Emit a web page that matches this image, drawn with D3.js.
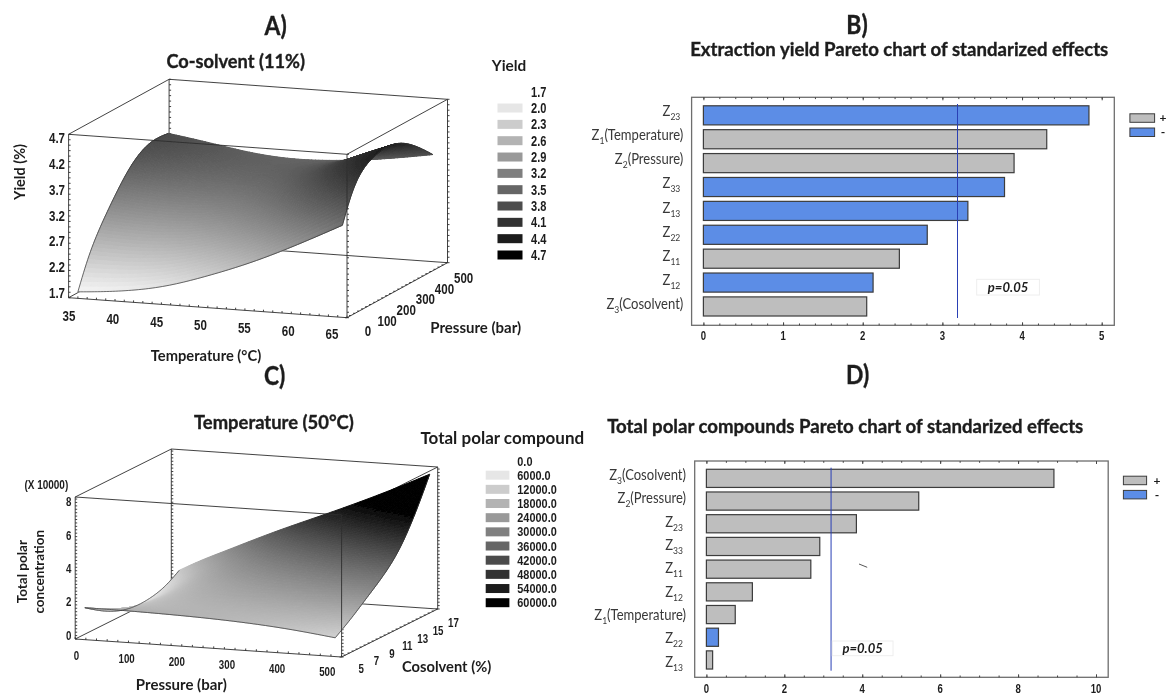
<!DOCTYPE html>
<html>
<head>
<meta charset="utf-8">
<script src="https://cdnjs.cloudflare.com/ajax/libs/d3/7.8.5/d3.min.js"></script>
<style>
  html, body { margin: 0; padding: 0; background: #fff; }
  svg { display: block; }
  text { font-family: Lato, "Noto Sans", sans-serif; fill: #1c1c1c; }
  .narrow { font-family: "Liberation Sans", sans-serif; font-weight: bold; }
  .heavy { stroke: #1c1c1c; stroke-width: 0.35; }
</style>
</head>
<body>
<svg id="chart" width="1166" height="695">
  <defs>
    <filter id="soft" filterUnits="userSpaceOnUse" x="0" y="0" width="1166" height="695">
      <feGaussianBlur stdDeviation="0.4"></feGaussianBlur>
    </filter>
  </defs>
</svg>
<script>
// A) yield surface, rows go with yieldPressures, columns with yieldTemps
var yieldTemps = [36, 40, 45, 50, 55, 60, 64.5];
var yieldPressures = [0, 50, 100, 150, 200, 250, 300, 350, 400, 450];
var yieldGrid = [
  [1.82, 1.87, 2.00, 2.28, 2.60, 3.00, 3.39],
  [2.35, 2.33, 2.38, 2.62, 2.95, 3.45, 3.95],
  [2.72, 2.68, 2.70, 2.90, 3.22, 3.75, 4.22],
  [3.02, 2.97, 2.97, 3.12, 3.44, 3.95, 4.33],
  [3.30, 3.22, 3.20, 3.30, 3.58, 4.05, 4.38],
  [3.55, 3.44, 3.38, 3.42, 3.67, 4.08, 4.38],
  [3.73, 3.60, 3.50, 3.50, 3.70, 4.03, 4.30],
  [3.83, 3.70, 3.58, 3.53, 3.68, 3.92, 4.16],
  [3.85, 3.74, 3.60, 3.52, 3.62, 3.80, 3.98],
  [3.82, 3.72, 3.56, 3.50, 3.55, 3.65, 3.78]
];
var yieldLegend = [1.7, 2.0, 2.3, 2.6, 2.9, 3.2, 3.5, 3.8, 4.1, 4.4, 4.7];
var tempTicks = [35, 40, 45, 50, 55, 60, 65];
var pressureTicks = [0, 100, 200, 300, 400, 500];
var yieldTicks = [1.7, 2.2, 2.7, 3.2, 3.7, 4.2, 4.7];

// C) total polar surface (x 10000), rows go with polarCosolvents, columns with polarPressures
var polarPressures = [18, 60, 100, 200, 300, 400, 488];
var polarCosolvents = [5, 7, 9, 11, 13, 15, 16.8];
var polarGrid = [
  [1.87, 1.87, 1.86, 1.80, 1.68, 1.45, 1.10],
  [1.20, 1.45, 1.60, 1.75, 1.80, 1.80, 1.75],
  [0.70, 1.15, 1.55, 1.95, 2.15, 2.35, 2.55],
  [0.45, 1.00, 1.60, 2.20, 2.60, 3.00, 3.30],
  [0.48, 1.10, 1.75, 2.65, 3.20, 3.80, 4.30],
  [0.72, 1.45, 2.05, 3.20, 4.00, 5.00, 6.00],
  [1.30, 2.00, 2.55, 4.00, 5.25, 6.60, 7.92]
];
var polarLegend = [0, 6000, 12000, 18000, 24000, 30000, 36000, 42000, 48000, 54000, 60000];
var cosolventTicks = [5, 7, 9, 11, 13, 15, 17];
var polarTicks = [0, 2, 4, 6, 8];

// B) Pareto of yield
var yieldEffects = ["Z23", "Z1(Temperature)", "Z2(Pressure)", "Z33", "Z13", "Z22", "Z11", "Z12", "Z3(Cosolvent)"];
var yieldEffectValues = [4.84, 4.31, 3.90, 3.78, 3.32, 2.81, 2.46, 2.13, 2.05];
var yieldEffectSigns = ["-", "+", "+", "-", "-", "-", "+", "-", "+"];
var yieldThreshold = 3.19;

// D) Pareto of polar compounds
var polarEffects = ["Z3(Cosolvent)", "Z2(Pressure)", "Z23", "Z33", "Z11", "Z12", "Z1(Temperature)", "Z22", "Z13"];
var polarEffectValues = [8.92, 5.45, 3.85, 2.91, 2.68, 1.18, 0.74, 0.31, 0.16];
var polarEffectSigns = ["+", "+", "+", "+", "+", "+", "+", "-", "+"];
var polarThreshold = 3.2;

var svg = d3.select("#chart");
var root = svg.append("g").attr("filter", "url(#soft)");

// every label goes through here; sq squeezes the glyphs sideways (the source font is narrow)
function label(parent, x, y, str, size, opts) {
  opts = opts || {};
  return parent.append("text")
    .attr("transform", "translate(" + x + "," + y + ") scale(" + (opts.sq || 1) + ",1)")
    .attr("dy", "0.35em")
    .attr("text-anchor", opts.anchor || "middle")
    .attr("font-size", size)
    .attr("font-weight", opts.weight || "bold")
    .attr("font-style", opts.style || "normal")
    .attr("class", opts.cls || null)
    .text(str);
}

function surfacePanel(cfg) {
  var g = root.append("g");
  var sx = d3.scaleLinear().domain(cfg.xDomain).range([0, 1]);
  var sy = d3.scaleLinear().domain(cfg.yDomain).range([0, 1]);
  var sz = d3.scaleLinear().domain(cfg.zDomain).range([0, 1]);
  var shade = d3.scaleLinear().domain(cfg.shadeDomain).range(["#ffffff", "#000000"]).clamp(true);

  function project(a, b, v) {
    return [
      cfg.origin[0] + sx(a) * cfg.xVec[0] + sy(b) * cfg.yVec[0],
      cfg.origin[1] + sx(a) * cfg.xVec[1] + sy(b) * cfg.yVec[1] - sz(v) * cfg.height
    ];
  }

  var x0 = cfg.xDomain[0], x1 = cfg.xDomain[1], y0 = cfg.yDomain[0], y1 = cfg.yDomain[1], z0 = cfg.zDomain[0], z1 = cfg.zDomain[1];
  var line = d3.line();

  function edge(a, b) {
    return g.append("path").attr("d", line([a, b])).attr("fill", "none")
      .attr("stroke", "#2e2e2e").attr("stroke-width", 0.9);
  }

  // box parts behind the surface
  edge(project(x0, y0, z0), project(x1, y0, z0));
  edge(project(x0, y0, z0), project(x0, y1, z0));
  edge(project(x1, y0, z0), project(x1, y1, z0));
  edge(project(x0, y1, z0), project(x1, y1, z0));
  edge(project(x0, y1, z0), project(x0, y1, z1));
  edge(project(x1, y1, z0), project(x1, y1, z1));
  edge(project(x0, y0, z0), project(x0, y0, z1));
  edge(project(x0, y1, z1), project(x1, y1, z1));
  edge(project(x0, y0, z1), project(x0, y1, z1));
  edge(project(x1, y1, z1), project(x1, y0, z1));

  // small ticks on the box
  var minor = sz.ticks(30);
  [[x0, y0], [x0, y1], [x1, y0], [x1, y1]].forEach(function(c) {
    minor.forEach(function(v) {
      var p = project(c[0], c[1], v);
      edge(p, [p[0] + 2, p[1]]);
    });
  });
  sx.ticks(30).forEach(function(a) {
    var p = project(a, y0, z0);
    edge(p, [p[0], p[1] - 2]);
  });
  sy.ticks(25).forEach(function(b) {
    var p = project(x1, b, z0);
    edge(p, [p[0] - 2, p[1]]);
  });

  // surface, painted back to front; the grid is only smoothed on screen
  var nu = 80, nv = 64;
  var rowFns = cfg.grid.map(function(r) { return d3.interpolateBasis(r); });
  var xFn = d3.interpolateBasis(cfg.xs), yFn = d3.interpolateBasis(cfg.ys);
  var pts = d3.range(nv + 1).map(function(j) {
    var v = j / nv;
    return d3.range(nu + 1).map(function(i) {
      var u = i / nu;
      var val = d3.interpolateBasis(rowFns.map(function(f) { return f(u); }))(v);
      return { p: project(xFn(u), yFn(v), val), v: val };
    });
  });
  var surf = g.append("g");
  for (var j = nv - 1; j >= 0; j--) {
    for (var i = 0; i < nu; i++) {
      var q = [pts[j][i], pts[j][i + 1], pts[j + 1][i + 1], pts[j + 1][i]];
      var c = shade(d3.mean(q, function(d) { return d.v; }));
      surf.append("path")
        .attr("d", line(q.map(function(d) { return d.p; })) + "Z")
        .attr("fill", c).attr("stroke", c).attr("stroke-width", 1);
    }
  }

  // thin dark outline along the near and side edges of the surface
  var rim = function(d) { return d.p; };
  [pts[0].map(rim), pts.map(function(r) { return r[0].p; }), pts.map(function(r) { return r[nu].p; })].forEach(function(e) {
    g.append("path").attr("d", line(e)).attr("fill", "none")
      .attr("stroke", "#333").attr("stroke-width", 0.7);
  });

  // front edges run over the surface
  edge(project(x0, y0, z1), project(x1, y0, z1));
  edge(project(x1, y0, z0), project(x1, y0, z1));

  // tick labels sit on their own straight runs next to the box
  function runLabels(values, scale, fmt) {
    values.forEach(function(d) {
      var p = scale(d);
      label(g, p[0], p[1], fmt ? fmt(d) : d, cfg.tickSize, { cls: "narrow", sq: cfg.tickSq });
    });
  }
  var zy = d3.scaleLinear().domain(cfg.zLabelDomain).range(cfg.zLabelRange);
  runLabels(cfg.zTicks, function(d) { return [cfg.zLabelX, zy(d)]; }, cfg.zFmt);
  var xlx = d3.scaleLinear().domain(cfg.xLabelDomain).range(cfg.xLabelA);
  var xly = d3.scaleLinear().domain(cfg.xLabelDomain).range(cfg.xLabelB);
  runLabels(cfg.xTicks, function(d) { return [xlx(d), xly(d)]; });
  var ylx = d3.scaleLinear().domain(cfg.yLabelDomain).range(cfg.yLabelA);
  var yly = d3.scaleLinear().domain(cfg.yLabelDomain).range(cfg.yLabelB);
  runLabels(cfg.yTicks, function(d) { return [ylx(d), yly(d)]; });

  // legend
  var ly = d3.scalePoint().domain(cfg.legend).range(cfg.legendY);
  cfg.legend.forEach(function(d, i) {
    label(g, cfg.legendText, ly(d), d.toFixed(1), cfg.legendSize, { anchor: "start", cls: "narrow", sq: cfg.legendSq });
    if (i > 0) {
      g.append("rect")
        .attr("x", cfg.swatch[0])
        .attr("width", cfg.swatch[1] - cfg.swatch[0])
        .attr("y", ly(d) - 4.5)
        .attr("height", 9)
        .attr("fill", shade(d / cfg.legendDiv));
    }
  });
}

function paretoPanel(cfg) {
  var g = root.append("g");
  var x = d3.scaleLinear().domain(cfg.xDomain).range(cfg.xRange);
  var y = d3.scaleBand().domain(cfg.names).range(cfg.bandRange).paddingInner(0.2).paddingOuter(0.1);
  var labelY = d3.scalePoint().domain(cfg.names).range(cfg.labelRange);
  var frame = cfg.frame;

  g.append("rect")
    .attr("x", frame[0]).attr("y", frame[1])
    .attr("width", frame[2] - frame[0]).attr("height", frame[3] - frame[1])
    .attr("fill", "none").attr("stroke", "#6e6e6e").attr("stroke-width", 1.3);

  // inward ticks, top and bottom
  var axisBottom = d3.axisBottom(x).tickValues(cfg.ticks).tickSize(-3).tickFormat("");
  var axisTop = d3.axisTop(x).tickValues(cfg.ticks).tickSize(-3).tickFormat("");
  var minorB = d3.axisBottom(x).tickValues(cfg.minorTicks).tickSize(-1.8).tickFormat("");
  var minorT = d3.axisTop(x).tickValues(cfg.minorTicks).tickSize(-1.8).tickFormat("");
  [axisBottom, minorB].forEach(function(a) {
    g.append("g").attr("transform", "translate(0," + frame[3] + ")").call(a)
      .call(function(s) { s.select(".domain").remove(); s.selectAll("line").attr("stroke", "#444"); });
  });
  [axisTop, minorT].forEach(function(a) {
    g.append("g").attr("transform", "translate(0," + frame[1] + ")").call(a)
      .call(function(s) { s.select(".domain").remove(); s.selectAll("line").attr("stroke", "#444"); });
  });
  cfg.ticks.forEach(function(d) {
    label(g, x(d), cfg.tickY, d, 12, { cls: "narrow", sq: 0.8 });
  });

  g.selectAll(".bar")
    .data(cfg.values)
    .enter().append("rect")
    .attr("class", "bar")
    .attr("x", x(0))
    .attr("y", function(d, i) { return y(cfg.names[i]); })
    .attr("width", function(d) { return x(d) - x(0); })
    .attr("height", y.bandwidth())
    .attr("fill", function(d, i) { return cfg.signs[i] === "+" ? "#bebebe" : "#5b8de6"; })
    .attr("stroke", "#3c3c3c")
    .attr("stroke-width", 1.2);

  g.append("line")
    .attr("x1", x(cfg.threshold)).attr("x2", x(cfg.threshold))
    .attr("y1", cfg.thresholdY[0]).attr("y2", cfg.thresholdY[1])
    .attr("stroke", "#2a3fb5").attr("stroke-width", 1);

  // category names with subscript numbers
  cfg.names.forEach(function(name) {
    var m = name.match(/^Z(\d+)(.*)$/);
    var t = g.append("text")
      .attr("transform", "translate(" + (cfg.labelX - (m[2] ? 0 : 3)) + "," + labelY(name) + ") scale(0.9,1)")
      .attr("dy", "0.35em")
      .attr("text-anchor", "end")
      .attr("font-size", 14.5)
      .style("fill", "#383838");
    t.append("tspan").text("Z");
    t.append("tspan").attr("font-size", 9.5).attr("dy", 4).text(m[1]);
    if (m[2]) t.append("tspan").attr("dy", -4).text(m[2]);
  });

  // p=0.05 note
  g.append("rect")
    .attr("x", cfg.noteBox[0]).attr("y", cfg.noteBox[1])
    .attr("width", cfg.noteBox[2]).attr("height", cfg.noteBox[3])
    .attr("fill", "#fff").attr("stroke", "#eeeeee");
  label(g, cfg.noteBox[0] + cfg.noteBox[2] / 2, cfg.noteBox[1] + cfg.noteBox[3] / 2, "p=0.05", 13.5, { style: "italic", sq: 0.97 });

  // legend
  [["+", "#bebebe"], ["-", "#5b8de6"]].forEach(function(d, i) {
    var sy = cfg.legendY[i];
    g.append("rect").attr("x", cfg.legendX).attr("y", sy).attr("width", cfg.legendW).attr("height", 8.5)
      .attr("fill", d[1]).attr("stroke", "#3c3c3c").attr("stroke-width", 1);
    label(g, cfg.legendLabel, sy + 4.2, d[0], 12);
  });
}

surfacePanel({
  xs: yieldTemps, ys: yieldPressures, grid: yieldGrid,
  xDomain: [35, 65], yDomain: [0, 500], zDomain: [1.7, 4.7], shadeDomain: [1.7, 4.7],
  origin: [68.6, 297.7], xVec: [278.4, 20], yVec: [100.5, -55], height: 163.4,
  tickSize: 15, tickSq: 0.77,
  zTicks: yieldTicks, zLabelDomain: [1.7, 4.7], zLabelRange: [292.7, 138], zLabelX: 57,
  zFmt: function(d) { return d.toFixed(1); },
  xTicks: tempTicks, xLabelDomain: [35, 65], xLabelA: [69, 332], xLabelB: [316, 333.5],
  yTicks: pressureTicks, yLabelDomain: [0, 500], yLabelA: [368, 463.6], yLabelB: [331, 278],
  legend: yieldLegend, legendDiv: 1, legendY: [91.7, 255], legendText: 531, legendSize: 14, legendSq: 0.79, swatch: [497.5, 522.5]
});

surfacePanel({
  xs: polarPressures, ys: polarCosolvents, grid: polarGrid,
  xDomain: [0, 500], yDomain: [5, 17], zDomain: [0, 8.32], shadeDomain: [0, 6],
  origin: [75.2, 639], xVec: [266.4, 18], yVec: [96.1, -48], height: 142,
  tickSize: 13.5, tickSq: 0.72,
  zTicks: polarTicks, zLabelDomain: [0, 8], zLabelRange: [635, 501.7], zLabelX: 68.8,
  xTicks: pressureTicks, xLabelDomain: [0, 500], xLabelA: [76.4, 327.3], xLabelB: [655, 671],
  yTicks: cosolventTicks, yLabelDomain: [5, 17], yLabelA: [361.2, 453.4], yLabelB: [668.3, 622.7],
  legend: polarLegend, legendDiv: 10000, legendY: [461, 602.7], legendText: 517.3, legendSize: 13, legendSq: 0.84, swatch: [485.7, 509.4]
});

paretoPanel({
  names: yieldEffects, values: yieldEffectValues, signs: yieldEffectSigns, threshold: yieldThreshold,
  xDomain: [0, 5], xRange: [703.4, 1101.7], frame: [691.6, 97.3, 1114.3, 325.3],
  ticks: [0, 1, 2, 3, 4, 5], minorTicks: d3.range(0, 5.01, 0.2), tickY: 336,
  bandRange: [103.4, 318.4], labelRange: [111, 304], labelX: 683.3,
  thresholdY: [104, 318], noteBox: [976.7, 279.3, 62.7, 15.7],
  legendX: 1129.9, legendW: 24.7, legendLabel: 1163, legendY: [113.8, 128]
});

paretoPanel({
  names: polarEffects, values: polarEffectValues, signs: polarEffectSigns, threshold: polarThreshold,
  xDomain: [0, 10], xRange: [706.4, 1096], frame: [694.7, 461, 1108.2, 677.3],
  ticks: [0, 2, 4, 6, 8, 10], minorTicks: d3.range(0, 10.01, 0.5), tickY: 688.3,
  bandRange: [467, 671.3], labelRange: [475, 661.5], labelX: 686,
  thresholdY: [467.7, 670.7], noteBox: [832.3, 641, 60.7, 14.7],
  legendX: 1123.4, legendW: 23.2, legendLabel: 1157, legendY: [476.2, 490.4]
});

// stray mark in the D panel
root.append("line").attr("x1", 859).attr("y1", 564).attr("x2", 867.2).attr("y2", 567.3)
  .attr("stroke", "#555").attr("stroke-width", 1);

// headings and axis titles
label(root, 275.7, 26, "A)", 26, { sq: 0.88, cls: "heavy" });
label(root, 857, 25, "B)", 26, { sq: 0.88, cls: "heavy" });
label(root, 274.6, 375.7, "C)", 26, { sq: 0.88, cls: "heavy" });
label(root, 857.7, 375, "D)", 26, { sq: 0.88, cls: "heavy" });
label(root, 235.7, 61, "Co-solvent (11%)", 19, { sq: 0.96, cls: "heavy" });
label(root, 899.2, 49, "Extraction yield Pareto chart of standarized effects", 19, { sq: 0.98, cls: "heavy" });
label(root, 273.9, 422.7, "Temperature (50\u00B0C)", 19, { sq: 0.97, cls: "heavy" });
label(root, 845.2, 426, "Total polar compounds Pareto chart of standarized effects", 19, { sq: 0.98, cls: "heavy" });
label(root, 509, 65.7, "Yield", 16, { sq: 0.96 });
label(root, 502.3, 438.3, "Total polar compound", 17);
label(root, 475.7, 328, "Pressure (bar)", 15);
label(root, 206, 355.7, "Temperature (\u00B0C)", 15, { sq: 0.98 });
label(root, 181.3, 685, "Pressure  (bar)", 15);
label(root, 446.6, 666.7, "Cosolvent  (%)", 15, { sq: 0.98 });
label(root, 46.3, 484.3, "(X 10000)", 12.5, { cls: "narrow", sq: 0.8 });

function vertical(x, y, str, size) {
  root.append("text")
    .attr("transform", "translate(" + x + "," + y + ") rotate(-90)")
    .attr("dy", "0.35em")
    .attr("text-anchor", "middle")
    .attr("font-size", size)
    .attr("font-weight", "bold")
    .text(str);
}
vertical(20, 172, "Yield (%)", 14.5);
vertical(22.6, 571.7, "Total polar", 13.5);
vertical(39.5, 571.7, "concentration", 13.5);
</script>
</body>
</html>
